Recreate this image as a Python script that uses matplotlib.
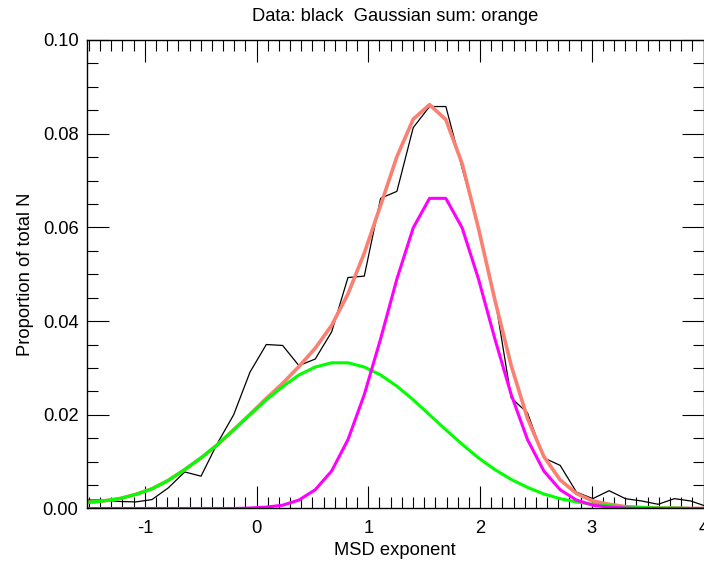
# MSD exponent histogram with two-Gaussian fit
import matplotlib
matplotlib.use('Agg')
import matplotlib.pyplot as plt
from matplotlib.ticker import MultipleLocator, FormatStrFormatter

plt.rcParams['font.family'] = ['Liberation Sans', 'DejaVu Sans']
plt.rcParams['axes.unicode_minus'] = False

# bin centres (MSD exponent)
msd = [-1.520, -1.374, -1.228, -1.082, -0.936, -0.790, -0.643, -0.497, -0.351, -0.205,
       -0.059, 0.087, 0.233, 0.379, 0.525, 0.672, 0.818, 0.964, 1.110, 1.256,
       1.402, 1.548, 1.694, 1.840, 1.986, 2.133, 2.279, 2.425, 2.571, 2.717,
       2.863, 3.009, 3.155, 3.301, 3.447, 3.594, 3.740, 3.886, 4.032]

# measured proportion of total N
data = [0.0018, 0.0018, 0.0015, 0.0014, 0.0019, 0.0044, 0.0078, 0.0069, 0.0139, 0.0200,
        0.0291, 0.0350, 0.0348, 0.0305, 0.0319, 0.0377, 0.0493, 0.0496, 0.0662, 0.0677,
        0.0813, 0.0858, 0.0858, 0.0726, 0.0600, 0.0450, 0.0236, 0.0204, 0.0108, 0.0092,
        0.0035, 0.0021, 0.0038, 0.0021, 0.0016, 0.0009, 0.0021, 0.0016, 0.0004]

# broad gaussian component (green)
gauss1 = [0.0013, 0.0016, 0.0021, 0.0030, 0.0042, 0.0060, 0.0083, 0.0108, 0.0136, 0.0168,
          0.0200, 0.0232, 0.0260, 0.0285, 0.0302, 0.0311, 0.0311, 0.0302, 0.0285, 0.0261,
          0.0232, 0.0200, 0.0168, 0.0137, 0.0108, 0.0083, 0.0062, 0.0045, 0.0031, 0.0021,
          0.0014, 0.0009, 0.0006, 0.0003, 0.0002, 0.0001, 0.0001, 0.0000, 0.0000]

# narrow gaussian component (magenta)
gauss2 = [0.0000, 0.0000, 0.0000, 0.0000, 0.0000, 0.0000, 0.0000, 0.0000, 0.0000, 0.0000,
          0.0001, 0.0003, 0.0007, 0.0018, 0.0040, 0.0080, 0.0147, 0.0243, 0.0362, 0.0490,
          0.0599, 0.0662, 0.0662, 0.0599, 0.0490, 0.0362, 0.0243, 0.0147, 0.0080, 0.0040,
          0.0018, 0.0007, 0.0003, 0.0001, 0.0000, 0.0000, 0.0000, 0.0000, 0.0000]

# sum of the two (orange)
gsum = [0.0013, 0.0016, 0.0021, 0.0030, 0.0042, 0.0060, 0.0083, 0.0108, 0.0136, 0.0168,
        0.0201, 0.0235, 0.0267, 0.0303, 0.0342, 0.0391, 0.0458, 0.0545, 0.0647, 0.0751,
        0.0831, 0.0862, 0.0830, 0.0736, 0.0598, 0.0445, 0.0305, 0.0192, 0.0111, 0.0061,
        0.0032, 0.0016, 0.0009, 0.0004, 0.0002, 0.0001, 0.0001, 0.0000, 0.0000]

fig = plt.figure(figsize=(7.04, 5.61), dpi=100)
ax = fig.add_axes([0.1232, 0.0936, 0.9993 - 0.1232, 0.9287 - 0.0936])

ax.plot(msd, data, color='black', lw=0.9)
ax.plot(msd, gsum, color='#FA8072', lw=2.6)
ax.plot(msd, gauss1, color='#00FF00', lw=2.2)
ax.plot(msd, gauss2, color='#FF00FF', lw=2.2)

ax.set_xlim(-1.52, 4.0)
ax.set_ylim(0, 0.10)

ax.xaxis.set_major_locator(MultipleLocator(1))
ax.xaxis.set_minor_locator(MultipleLocator(0.1))
ax.yaxis.set_major_locator(MultipleLocator(0.02))
ax.yaxis.set_minor_locator(MultipleLocator(0.005))
ax.yaxis.set_major_formatter(FormatStrFormatter('%.2f'))
ax.xaxis.set_major_formatter(FormatStrFormatter('%d'))

ax.tick_params(which='both', direction='in', top=True, right=True, width=0.8, labelsize=13.2)
ax.tick_params(which='major', length=16)
ax.tick_params(which='minor', length=8)
ax.tick_params(axis='x', pad=8)
ax.tick_params(axis='y', pad=6)
for s in ax.spines.values():
    s.set_linewidth(1.0)

ax.set_xlabel('MSD exponent', fontsize=13.2, labelpad=4)
ax.set_ylabel('Proportion of total N', fontsize=13.2, labelpad=6)
ax.set_title('Data: black  Gaussian sum: orange', fontsize=13.2, pad=14)

fig.savefig('out.png', dpi=100)
